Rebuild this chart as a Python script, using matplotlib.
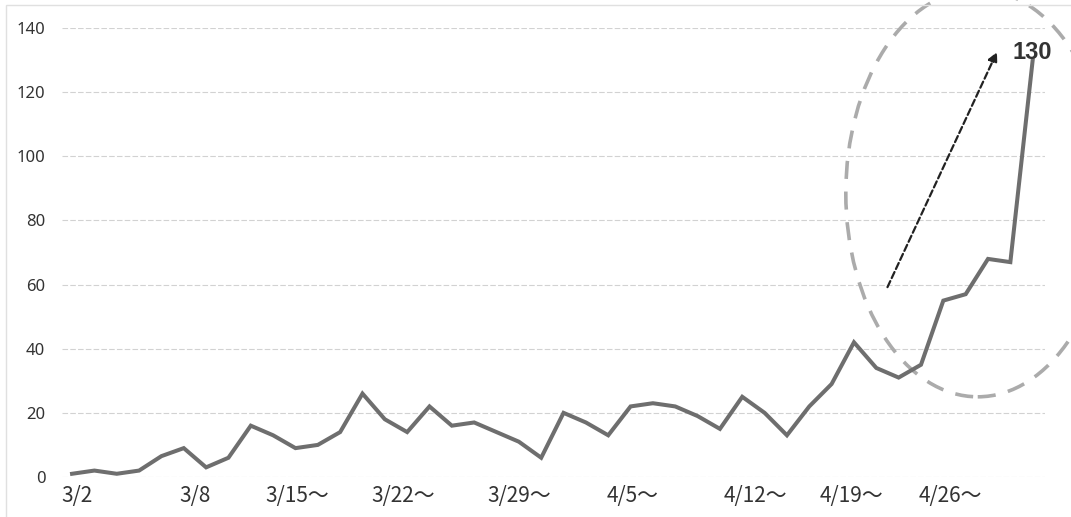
import matplotlib
matplotlib.use("Agg")
import matplotlib.pyplot as plt
from matplotlib.patches import Ellipse
import numpy as np

# daily counts (weekdays)
counts = [1, 2, 1, 2, 6.5, 9, 3, 6, 16, 13, 9, 10, 14, 26, 18, 14, 22, 16, 17, 14,
          11, 6, 20, 17, 13, 22, 23, 22, 19, 15, 25, 20, 13, 22, 29, 42, 34, 31, 35, 55,
          57, 68, 67, 130]
tick_labels = ["3/2", "3/8", "3/15～", "3/22～", "3/29～", "4/5～", "4/12～", "4/19～", "4/26～"]
tick_pos = [0.2, 5.5, 10.1, 14.8, 20.0, 25.1, 30.6, 34.9, 39.3]
y_ticks = [0, 20, 40, 60, 80, 100, 120, 140]
peak_label = "130"

fig = plt.figure(figsize=(10.71, 5.17), dpi=100)
ax = fig.add_axes([0.0579, 0.0774, 0.9178, 0.8684])
x = np.arange(len(counts))
ax.plot(x, counts, color="#6e6e6e", lw=2.9, solid_joinstyle="miter", zorder=3)

ax.set_xlim(-0.45, 43.55)
ax.set_ylim(0, 140)
ax.set_yticks(y_ticks)
ax.set_yticklabels([str(v) for v in y_ticks], family="Noto Sans", fontsize=12, color="#333333")
ax.set_xticks(tick_pos)
ax.set_xticklabels(tick_labels, family=["Liberation Sans Narrow", "Noto Sans CJK JP"],
                   fontsize=15, color="#333333")
ax.tick_params(axis="both", length=0)
ax.tick_params(axis="y", pad=12)
ax.tick_params(axis="x", pad=6)
for s in ax.spines.values():
    s.set_visible(False)
ax.grid(axis="y", color="#d2d2d2", lw=0.8, ls=(0, (5, 2)))
ax.set_axisbelow(True)

# highlight around the last week
ell = Ellipse((40.54, 88.5), 11.81, 127.0, fill=False, ec="#ababab", lw=2.6,
              ls=(0, (5, 3.5)), clip_on=False, zorder=2)
ax.add_patch(ell)
ax.annotate("", xy=(41.4, 132.5), xytext=(36.5, 59.2),
            arrowprops=dict(arrowstyle="-|>", color="#222222", lw=1.6, ls=(0, (3, 1.5)),
                            mutation_scale=14, shrinkA=0, shrinkB=0))
ax.text(43.0, 132.5, peak_label, ha="center", va="center", fontsize=17,
        fontweight="bold", family="Liberation Sans", color="#333333")

# faint scan frame
fig.patches.append(plt.Rectangle((0.006, -0.01), 1.0, 1.0, transform=fig.transFigure,
                                 fill=False, ec="#e0e0e0", lw=1))

fig.savefig("out.png", dpi=100)
